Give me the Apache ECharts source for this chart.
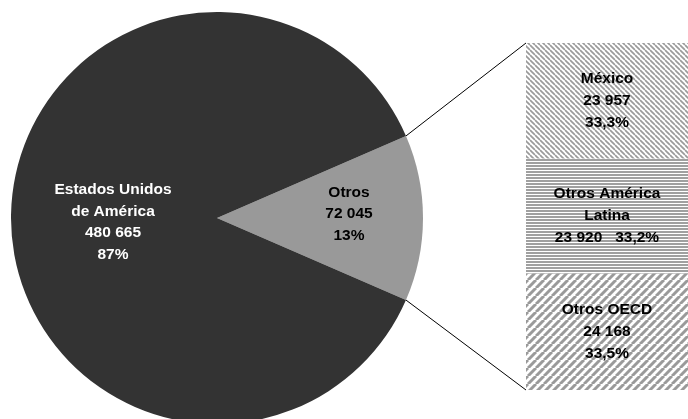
<!DOCTYPE html>
<html>
<head>
<meta charset="utf-8">
<script src="https://cdn.jsdelivr.net/npm/echarts@6/dist/echarts.min.js"></script>
<style>
html,body{margin:0;padding:0;background:#fff;}
#chart{width:688px;height:419px;}
</style>
</head>
<body>
<div id="chart"></div>
<script>
// ---- data ----
const pieNames = ['Otros', 'Estados Unidos\nde América'];
const pieValues = [72045, 480665];
const barNames = ['Otros OECD', 'Otros América\nLatina', 'México'];
const barValues = [24168, 23920, 23957];

// ---- helpers ----
function fmtNum(v) { return String(v).replace(/\B(?=(\d{3})+(?!\d))/g, ' '); }
function fmtPct(v, t) { return (v / t * 100).toFixed(1).replace('.', ',') + '%'; }
const pieTotal = pieValues.reduce((a, b) => a + b, 0);
const barTotal = barValues.reduce((a, b) => a + b, 0);

function tile(w, h, draw) {
  const c = document.createElement('canvas');
  c.width = w; c.height = h;
  const ctx = c.getContext('2d');
  ctx.fillStyle = '#ffffff';
  ctx.fillRect(0, 0, w, h);
  draw(ctx, w, h);
  return c;
}
function diag(s, lw, col, back) {
  return tile(s, s, (ctx) => {
    ctx.strokeStyle = col; ctx.lineWidth = lw;
    for (let k = -1; k <= 1; k++) {
      ctx.beginPath();
      if (back) { ctx.moveTo(k * s, 0); ctx.lineTo(k * s + s, s); }
      else { ctx.moveTo(k * s, s); ctx.lineTo(k * s + s, 0); }
      ctx.stroke();
    }
  });
}
const patMexico = diag(5, 1.7, '#9a9a9a', true);
const patAL = tile(3, 3, (ctx) => { ctx.fillStyle = '#a0a0a0'; ctx.fillRect(0, 0, 3, 2); });
const patOECD = diag(8, 3, '#9a9a9a', false);
const barPatterns = [patOECD, patAL, patMexico];

// ---- layout ----
const pieCenter = [217, 218];
const pieRadius = 206;
const halfAngle = 360 * pieValues[0] / pieTotal / 2;
const gridBox = { left: 526, top: 43, width: 162, height: 347 };
const font = 'Liberation Sans, Arial, sans-serif';

const chart = echarts.init(document.getElementById('chart'), null, { renderer: 'canvas' });

const barSeries = barValues.map((v, i) => ({
  type: 'bar',
  stack: 'total',
  barWidth: '100%',
  silent: true,
  data: [v],
  itemStyle: { color: { image: barPatterns[i], repeat: 'repeat' } },
  label: {
    show: true,
    position: 'inside',
    color: '#000',
    fontFamily: font,
    fontWeight: 'bold',
    fontSize: 15.5,
    lineHeight: 22,
    formatter: () => i === 1
      ? barNames[i] + '\n' + fmtNum(v) + '   ' + fmtPct(v, barTotal)
      : barNames[i] + '\n' + fmtNum(v) + '\n' + fmtPct(v, barTotal)
  }
}));

const option = {
  animation: false,
  backgroundColor: '#ffffff',
  grid: { left: gridBox.left, top: gridBox.top, width: gridBox.width, height: gridBox.height },
  xAxis: { type: 'category', data: [''], show: false, boundaryGap: true },
  yAxis: { type: 'value', min: 0, max: barTotal, show: false },
  series: [
    {
      type: 'pie',
      center: pieCenter,
      radius: pieRadius,
      startAngle: halfAngle,
      clockwise: true,
      silent: true,
      avoidLabelOverlap: false,
      itemStyle: { borderWidth: 0 },
      labelLine: { show: false },
      label: {
        show: true,
        position: 'inside',
        fontFamily: font,
        fontWeight: 'bold',
        fontSize: 15.5,
        lineHeight: 21.5,
        formatter: (p) => p.name + '\n' + fmtNum(p.value) + '\n' + (p.value / pieTotal * 100).toFixed(0) + '%'
      },
      labelLayout: (p) => (p.dataIndex === 0 ? { dx: 26, dy: -4 } : { dx: 2, dy: 4 }),
      data: pieValues.map((v, i) => ({
        name: pieNames[i],
        value: v,
        itemStyle: { color: i === 0 ? '#999999' : '#333333' },
        label: { color: i === 0 ? '#000000' : '#ffffff' }
      }))
    }
  ].concat(barSeries)
};
chart.setOption(option);

// connector lines from the slice edges to the bar corners (added to the render layer directly)
const topPt = chart.convertToPixel({ xAxisIndex: 0, yAxisIndex: 0 }, [0, barTotal]);
const botPt = chart.convertToPixel({ xAxisIndex: 0, yAxisIndex: 0 }, [0, 0]);
const barLeft = gridBox.left;
const rad = halfAngle * Math.PI / 180;
const e1 = [pieCenter[0] + pieRadius * Math.cos(rad), pieCenter[1] - pieRadius * Math.sin(rad)];
const e2 = [pieCenter[0] + pieRadius * Math.cos(rad), pieCenter[1] + pieRadius * Math.sin(rad)];
const zr = chart.getZr();
[[e1, topPt], [e2, botPt]].forEach(([a, b]) => {
  zr.add(new echarts.graphic.Line({
    z: 100,
    shape: { x1: a[0], y1: a[1], x2: barLeft, y2: b[1] },
    style: { stroke: '#000', lineWidth: 1 }
  }));
});
</script>
</body>
</html>
